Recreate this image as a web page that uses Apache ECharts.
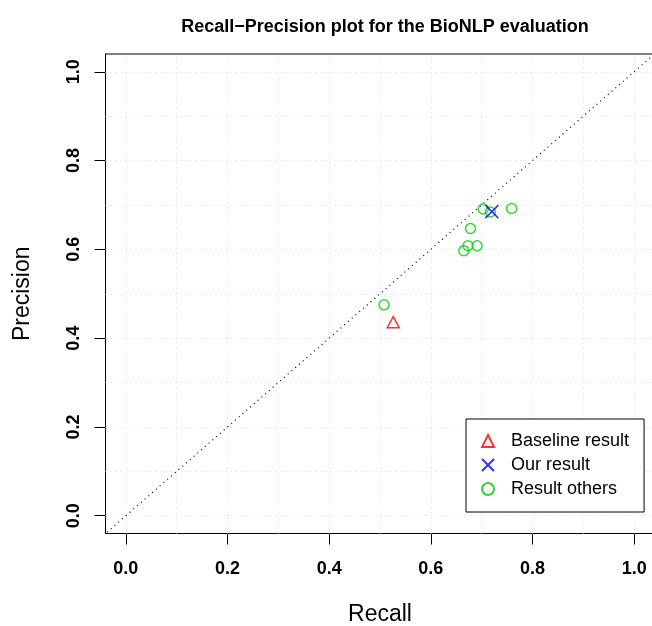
<!DOCTYPE html>
<html>
<head>
<meta charset="utf-8">
<script src="https://cdn.jsdelivr.net/npm/echarts@6/dist/echarts.min.js"></script>
<style>
html,body{margin:0;padding:0;background:#fff;}
#chart{width:652px;height:626px;}
</style>
</head>
<body>
<div id="chart"></div>
<script>
// ---- data ----
const titleText = 'Recall\u2212Precision plot for the BioNLP evaluation';
const xName = 'Recall';
const yName = 'Precision';
const tickValues = [0, 0.2, 0.4, 0.6, 0.8, 1.0];
const gridValues = [0, 0.1, 0.2, 0.3, 0.4, 0.5, 0.6, 0.7, 0.8, 0.9, 1.0];
const diagonal = [[-0.2, -0.2], [1.2, 1.2]];
const baselineName = 'Baseline result';
const baselinePoints = [[0.526, 0.436]];
const oursName = 'Our result';
const oursPoints = [[0.720, 0.685]];
const othersName = 'Result others';
const othersPoints = [
  [0.703, 0.691], [0.717, 0.684], [0.759, 0.692], [0.678, 0.647],
  [0.673, 0.608], [0.691, 0.608], [0.665, 0.597], [0.508, 0.475]
];

const FONT = '"Liberation Sans", Arial, Helvetica, sans-serif';
const chart = echarts.init(document.getElementById('chart'), null, {renderer: 'canvas'});

const gridMarks = gridValues.map(v => ({xAxis: v})).concat(gridValues.map(v => ({yAxis: v})));

chart.setOption({
  animation: false,
  backgroundColor: '#ffffff',
  textStyle: {fontFamily: FONT},
  title: {
    text: titleText,
    left: 380,
    textAlign: 'center',
    top: 13,
    textStyle: {fontFamily: FONT, fontWeight: 'bold', fontSize: 18, color: '#000'}
  },
  grid: {
    left: 105.5, top: 54, width: 549, height: 479.5,
    outerBoundsMode: 'none',
    containLabel: false,
    show: true, borderColor: '#000', borderWidth: 1, backgroundColor: 'transparent'
  },
  legend: {
    data: [baselineName, oursName, othersName],
    orient: 'vertical',
    left: 466, top: 419,
    itemWidth: 12, itemHeight: 12, itemGap: 4,
    padding: [12, 15, 13, 15],
    backgroundColor: '#fff',
    borderColor: '#000', borderWidth: 1, borderRadius: 0,
    selectedMode: false,
    textStyle: {fontFamily: FONT, fontSize: 18, color: '#000', lineHeight: 20, padding: [0, 0, 0, 12]}
  },
  xAxis: {
    type: 'value', min: -0.04, max: 1.04,
    name: xName, nameLocation: 'middle', nameGap: 70,
    nameTextStyle: {fontFamily: FONT, fontSize: 23, color: '#000'},
    axisLine: {show: true, onZero: false, lineStyle: {color: '#000', width: 1}},
    axisTick: {show: true, customValues: tickValues, length: 11, lineStyle: {color: '#000', width: 1}},
    axisLabel: {customValues: tickValues, formatter: v => Number(v).toFixed(1), margin: 27,
      fontFamily: FONT, fontWeight: 'bold', fontSize: 18, color: '#000'},
    splitLine: {show: false}
  },
  yAxis: {
    type: 'value', min: -0.04, max: 1.04,
    name: yName, nameLocation: 'middle', nameGap: 71,
    nameTextStyle: {fontFamily: FONT, fontSize: 23, color: '#000'},
    axisLine: {show: true, onZero: false, lineStyle: {color: '#000', width: 1}},
    axisTick: {show: true, customValues: tickValues, length: 11, lineStyle: {color: '#000', width: 1}},
    axisLabel: {customValues: tickValues, formatter: v => Number(v).toFixed(1), margin: 22, rotate: 90,
      fontFamily: FONT, fontWeight: 'bold', fontSize: 18, color: '#000'},
    splitLine: {show: false}
  },
  series: [
    {
      name: 'diagonal',
      type: 'line',
      data: diagonal,
      showSymbol: false,
      clip: true,
      silent: true,
      z: 2,
      lineStyle: {color: '#000', width: 1.2, type: [1, 4]},
      markLine: {
        silent: true,
        symbol: ['none', 'none'],
        label: {show: false},
        z: 1,
        lineStyle: {color: '#d8d8d8', width: 1, type: [1, 4]},
        data: gridMarks
      }
    },
    {
      name: baselineName,
      type: 'scatter',
      data: baselinePoints,
      symbol: 'triangle',
      symbolSize: [12, 11],
      z: 3,
      itemStyle: {color: 'rgba(0,0,0,0)', borderColor: '#ff0000', borderWidth: 1.5}
    },
    {
      name: othersName,
      type: 'scatter',
      data: othersPoints,
      symbol: 'circle',
      symbolSize: 10,
      z: 3,
      itemStyle: {color: 'rgba(0,0,0,0)', borderColor: '#00cd00', borderWidth: 1.5}
    },
    {
      name: oursName,
      type: 'scatter',
      data: oursPoints,
      symbol: 'path://M0,0L10,10M10,0L0,10',
      symbolSize: 13,
      z: 4,
      itemStyle: {color: 'rgba(0,0,0,0)', borderColor: '#0000ff', borderWidth: 1.5}
    }
  ]
});
</script>
</body>
</html>
